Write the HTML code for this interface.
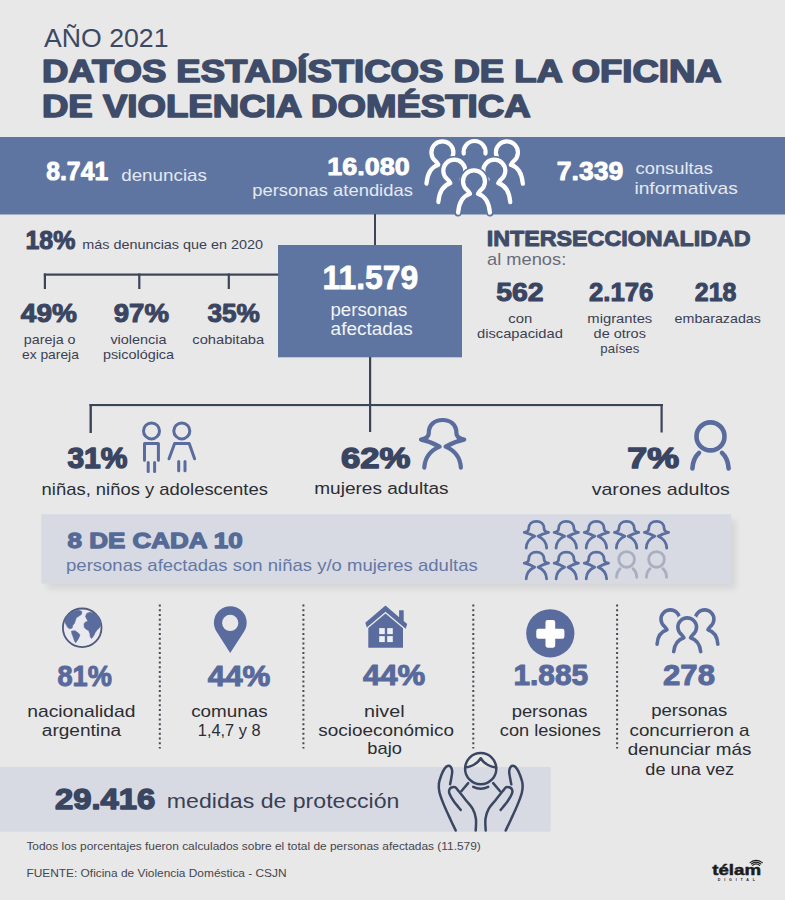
<!DOCTYPE html>
<html><head><meta charset="utf-8"><style>
html,body{margin:0;padding:0;background:#e8e8e8;}
body{width:785px;height:900px;overflow:hidden;position:relative;font-family:"Liberation Sans",sans-serif;}
svg{position:absolute;left:0;top:0;}
svg text{font-family:"Liberation Sans",sans-serif;}
</style></head><body>
<svg width="785" height="900" viewBox="0 0 785 900">
<defs><filter id="sh" filterUnits="userSpaceOnUse" x="20" y="495" width="750" height="120"><feGaussianBlur stdDeviation="3"/></filter></defs>
<rect x="0" y="0" width="785" height="900" fill="#e8e8e8"/>
<rect x="0" y="137" width="785" height="77.5" fill="#5f75a1"/>
<rect x="278" y="245" width="184" height="112.3" fill="#5f75a1"/>
<rect x="47" y="520" width="689" height="69" fill="#000" opacity="0.075" filter="url(#sh)"/>
<rect x="41.3" y="514.2" width="690" height="69.5" fill="#d7dae3"/>
<rect x="0" y="767" width="550.6" height="64.7" fill="#d7dae3"/>
<g fill="#3a4558">
<rect x="374" y="214" width="2" height="31"/>
<rect x="43.8" y="273.5" width="234.5" height="2.2"/>
<rect x="43.8" y="273.5" width="2.2" height="15.5"/>
<rect x="138.2" y="273.5" width="2.2" height="15.5"/>
<rect x="227.7" y="273.5" width="2.2" height="15.5"/>
<rect x="369" y="357" width="2.2" height="48"/>
<rect x="89.5" y="404" width="573.5" height="2.1"/>
<rect x="89.5" y="404" width="2.4" height="29"/>
<rect x="369" y="404" width="2.2" height="28"/>
<rect x="660.5" y="404" width="2.2" height="28.5"/>
</g>
<line x1="159.8" y1="604.4" x2="159.8" y2="748.5" stroke="#474a56" stroke-width="2" stroke-dasharray="2.1 2.65"/>
<line x1="303.4" y1="604.4" x2="303.4" y2="748.5" stroke="#474a56" stroke-width="2" stroke-dasharray="2.1 2.65"/>
<line x1="473.3" y1="604.4" x2="473.3" y2="748.5" stroke="#474a56" stroke-width="2" stroke-dasharray="2.1 2.65"/>
<line x1="617.1" y1="604.4" x2="617.1" y2="748.5" stroke="#474a56" stroke-width="2" stroke-dasharray="2.1 2.65"/>
<text transform="translate(44.00 46.80) scale(1.0253 1)" font-size="26" font-weight="400" fill="#3d4863">AÑO 2021</text>
<text transform="translate(41.91 81.80) scale(1.1549 1)" font-size="31.6" font-weight="700" fill="#3f4c69" stroke="#3f4c69" stroke-width="1.6" stroke-linejoin="round">DATOS ESTADÍSTICOS DE LA OFICINA</text>
<text transform="translate(41.91 116.80) scale(1.1586 1)" font-size="31.6" font-weight="700" fill="#3f4c69" stroke="#3f4c69" stroke-width="1.6" stroke-linejoin="round">DE VIOLENCIA DOMÉSTICA</text>
<text transform="translate(46.24 180.35) scale(0.9758 1)" font-size="25.37" font-weight="700" fill="#ffffff" stroke="#ffffff" stroke-width="0.9" stroke-linejoin="round">8.741</text>
<text transform="translate(121.20 180.80) scale(1.1762 1)" font-size="16.0" font-weight="400" fill="#e4e9f3">denuncias</text>
<text transform="translate(327.30 175.45) scale(1.0872 1)" font-size="24.77" font-weight="700" fill="#ffffff" stroke="#ffffff" stroke-width="0.9" stroke-linejoin="round">16.080</text>
<text transform="translate(252.28 195.60) scale(1.1158 1)" font-size="16.5" font-weight="400" fill="#e4e9f3">personas atendidas</text>
<text transform="translate(556.83 180.15) scale(1.0449 1)" font-size="25.37" font-weight="700" fill="#ffffff" stroke="#ffffff" stroke-width="0.9" stroke-linejoin="round">7.339</text>
<text transform="translate(635.60 174.30) scale(1.1304 1)" font-size="16.2" font-weight="400" fill="#e4e9f3">consultas</text>
<text transform="translate(634.42 194.00) scale(1.1849 1)" font-size="16.2" font-weight="400" fill="#e4e9f3">informativas</text>
<text transform="translate(25.50 249.30) scale(0.9955 1)" font-size="25.02" font-weight="700" fill="#3a4561" stroke="#3a4561" stroke-width="1.0" stroke-linejoin="round">18%</text>
<text transform="translate(82.30 249.10) scale(1.0915 1)" font-size="13.2" font-weight="400" fill="#3c4052">más denuncias que en 2020</text>
<text transform="translate(20.86 322.20) scale(1.1107 1)" font-size="25.22" font-weight="700" fill="#3a4561" stroke="#3a4561" stroke-width="1.0" stroke-linejoin="round">49%</text>
<text transform="translate(113.75 322.20) scale(1.0930 1)" font-size="25.22" font-weight="700" fill="#3a4561" stroke="#3a4561" stroke-width="1.0" stroke-linejoin="round">97%</text>
<text transform="translate(207.52 322.20) scale(1.0382 1)" font-size="25.22" font-weight="700" fill="#3a4561" stroke="#3a4561" stroke-width="1.0" stroke-linejoin="round">35%</text>
<text transform="translate(23.80 344.40) scale(1.1186 1)" font-size="12.8" font-weight="400" fill="#3c4052">pareja o</text>
<text transform="translate(22.00 358.80) scale(1.0798 1)" font-size="12.8" font-weight="400" fill="#3c4052">ex pareja</text>
<text transform="translate(110.40 344.40) scale(1.1267 1)" font-size="12.8" font-weight="400" fill="#3c4052">violencia</text>
<text transform="translate(102.90 358.80) scale(1.1247 1)" font-size="12.8" font-weight="400" fill="#3c4052">psicológica</text>
<text transform="translate(192.30 344.40) scale(1.1480 1)" font-size="12.8" font-weight="400" fill="#3c4052">cohabitaba</text>
<text transform="translate(322.48 289.30) scale(0.9516 1)" font-size="33.5" font-weight="700" fill="#ffffff" stroke="#ffffff" stroke-width="0.8" stroke-linejoin="round">11.579</text>
<text transform="translate(330.48 315.60) scale(1.0207 1)" font-size="18.3" font-weight="400" fill="#f2f4f8">personas</text>
<text transform="translate(330.60 335.00) scale(1.0375 1)" font-size="18.3" font-weight="400" fill="#f2f4f8">afectadas</text>
<text transform="translate(486.68 245.50) scale(1.0311 1)" font-size="22.6" font-weight="700" fill="#3f4c69" stroke="#3f4c69" stroke-width="1.0" stroke-linejoin="round">INTERSECCIONALIDAD</text>
<text transform="translate(487.00 264.50) scale(1.1294 1)" font-size="16.2" font-weight="400" fill="#686c7a">al menos:</text>
<text transform="translate(496.25 301.10) scale(1.1084 1)" font-size="25.62" font-weight="700" fill="#3a4561" stroke="#3a4561" stroke-width="1.0" stroke-linejoin="round">562</text>
<text transform="translate(589.00 301.10) scale(1.0040 1)" font-size="25.62" font-weight="700" fill="#3a4561" stroke="#3a4561" stroke-width="1.0" stroke-linejoin="round">2.176</text>
<text transform="translate(694.79 301.10) scale(0.9727 1)" font-size="25.62" font-weight="700" fill="#3a4561" stroke="#3a4561" stroke-width="1.0" stroke-linejoin="round">218</text>
<text transform="translate(508.30 323.30) scale(1.1433 1)" font-size="13.0" font-weight="400" fill="#3c4052">con</text>
<text transform="translate(477.00 338.00) scale(1.1341 1)" font-size="13.0" font-weight="400" fill="#3c4052">discapacidad</text>
<text transform="translate(587.30 323.30) scale(1.1393 1)" font-size="13.0" font-weight="400" fill="#3c4052">migrantes</text>
<text transform="translate(593.60 338.00) scale(1.1143 1)" font-size="13.0" font-weight="400" fill="#3c4052">de otros</text>
<text transform="translate(600.30 353.00) scale(1.0180 1)" font-size="13.0" font-weight="400" fill="#3c4052">países</text>
<text transform="translate(674.60 323.30) scale(1.0963 1)" font-size="13.0" font-weight="400" fill="#3c4052">embarazadas</text>
<text transform="translate(67.41 468.00) scale(1.0146 1)" font-size="29.6" font-weight="700" fill="#3a4561" stroke="#3a4561" stroke-width="1.4" stroke-linejoin="round">31%</text>
<text transform="translate(41.60 495.00) scale(1.0968 1)" font-size="16.8" font-weight="400" fill="#2c2d33">niñas, niños y adolescentes</text>
<text transform="translate(340.95 467.70) scale(1.1717 1)" font-size="29.6" font-weight="700" fill="#3a4561" stroke="#3a4561" stroke-width="1.4" stroke-linejoin="round">62%</text>
<text transform="translate(314.27 493.80) scale(1.1327 1)" font-size="16.8" font-weight="400" fill="#2c2d33">mujeres adultas</text>
<text transform="translate(627.34 467.70) scale(1.2133 1)" font-size="29.6" font-weight="700" fill="#3a4561" stroke="#3a4561" stroke-width="1.4" stroke-linejoin="round">7%</text>
<text transform="translate(591.70 494.60) scale(1.1653 1)" font-size="16.8" font-weight="400" fill="#2c2d33">varones adultos</text>
<text transform="translate(67.55 548.35) scale(1.1608 1)" font-size="22.4" font-weight="700" fill="#566a98" stroke="#566a98" stroke-width="1.3" stroke-linejoin="round">8 DE CADA 10</text>
<text transform="translate(66.04 570.50) scale(1.1579 1)" font-size="16.0" font-weight="400" fill="#6478a5">personas afectadas son niñas y/o mujeres adultas</text>
<text transform="translate(57.47 685.50) scale(0.9432 1)" font-size="28.77" font-weight="700" fill="#58699c" stroke="#58699c" stroke-width="1.0" stroke-linejoin="round">81%</text>
<text transform="translate(27.19 716.50) scale(1.2075 1)" font-size="16.0" font-weight="400" fill="#2c2d33">nacionalidad</text>
<text transform="translate(41.80 735.60) scale(1.1898 1)" font-size="16.0" font-weight="400" fill="#2c2d33">argentina</text>
<text transform="translate(207.74 685.50) scale(1.0880 1)" font-size="28.77" font-weight="700" fill="#58699c" stroke="#58699c" stroke-width="1.0" stroke-linejoin="round">44%</text>
<text transform="translate(191.20 716.50) scale(1.1768 1)" font-size="16.0" font-weight="400" fill="#2c2d33">comunas</text>
<text transform="translate(197.78 735.60) scale(1.0235 1)" font-size="16.0" font-weight="400" fill="#2c2d33">1,4,7 y 8</text>
<text transform="translate(362.94 685.00) scale(1.0828 1)" font-size="28.77" font-weight="700" fill="#58699c" stroke="#58699c" stroke-width="1.0" stroke-linejoin="round">44%</text>
<text transform="translate(363.96 716.50) scale(1.2376 1)" font-size="16.0" font-weight="400" fill="#2c2d33">nivel</text>
<text transform="translate(318.30 735.60) scale(1.1826 1)" font-size="16.0" font-weight="400" fill="#2c2d33">socioeconómico</text>
<text transform="translate(367.36 754.00) scale(1.1413 1)" font-size="16.0" font-weight="400" fill="#2c2d33">bajo</text>
<text transform="translate(513.48 685.00) scale(1.0363 1)" font-size="28.77" font-weight="700" fill="#58699c" stroke="#58699c" stroke-width="1.0" stroke-linejoin="round">1.885</text>
<text transform="translate(511.65 716.50) scale(1.1509 1)" font-size="16.0" font-weight="400" fill="#2c2d33">personas</text>
<text transform="translate(499.80 735.60) scale(1.1367 1)" font-size="16.0" font-weight="400" fill="#2c2d33">con lesiones</text>
<text transform="translate(663.06 684.80) scale(1.0813 1)" font-size="28.77" font-weight="700" fill="#58699c" stroke="#58699c" stroke-width="1.0" stroke-linejoin="round">278</text>
<text transform="translate(651.14 716.40) scale(1.1570 1)" font-size="16.0" font-weight="400" fill="#2c2d33">personas</text>
<text transform="translate(629.50 735.70) scale(1.1741 1)" font-size="16.0" font-weight="400" fill="#2c2d33">concurrieron a</text>
<text transform="translate(627.80 755.30) scale(1.1787 1)" font-size="16.0" font-weight="400" fill="#2c2d33">denunciar más</text>
<text transform="translate(645.30 774.60) scale(1.1369 1)" font-size="16.0" font-weight="400" fill="#2c2d33">de una vez</text>
<text transform="translate(55.03 809.45) scale(1.0783 1)" font-size="30.4" font-weight="700" fill="#3a4561" stroke="#3a4561" stroke-width="1.5" stroke-linejoin="round">29.416</text>
<text transform="translate(166.83 807.80) scale(1.1684 1)" font-size="19.8" font-weight="400" fill="#3b3f52">medidas de protección</text>
<text transform="translate(26.40 850.00) scale(1.0654 1)" font-size="11.2" font-weight="400" fill="#45464e">Todos los porcentajes fueron calculados sobre el total de personas afectadas (11.579)</text>
<text transform="translate(26.40 876.50) scale(1.0626 1)" font-size="11.2" font-weight="400" fill="#45464e">FUENTE: Oficina de Violencia Doméstica - CSJN</text>
<text transform="translate(712.20 875.35) scale(1.2062 1)" font-size="15.5" font-weight="700" fill="#1b1b1b" stroke="#1b1b1b" stroke-width="0.5" stroke-linejoin="round">télam</text>
<g fill="none" stroke="#ffffff" stroke-width="4.2" stroke-linecap="round" stroke-linejoin="round">
<path d="M426.45 183.75 C427.44 171.98 432.28 166.70 438.44 164.83 C437.78 163.73 436.90 162.30 435.58 161.03 A11.00 11.00 0 1 1 449.22 161.03 "/>
<path d="M463.71 153.53 A11.0 11.0 0 1 1 485.49 153.53"/>
<path d="M500.08 161.03 A11.00 11.00 0 1 1 513.72 161.03 C512.40 162.30 511.52 163.73 510.86 164.83 C517.02 166.70 521.86 171.98 522.85 183.75"/>
</g>
<circle cx="454.3" cy="170.7" r="14.7" fill="#5f75a1"/>
<path d="M438.35 202.05 C439.34 190.28 444.18 185.00 450.34 183.13 C449.68 182.03 448.80 180.60 447.48 179.33 A11.00 11.00 0 1 1 461.12 179.33 C459.80 180.60 458.92 182.03 458.26 183.13 C464.42 185.00 469.26 190.28 470.25 202.05" fill="none" stroke="#5f75a1" stroke-width="7.4" stroke-linecap="round" stroke-linejoin="round"/>
<circle cx="494.3" cy="170.7" r="14.7" fill="#5f75a1"/>
<path d="M478.35 202.05 C479.34 190.28 484.18 185.00 490.34 183.13 C489.68 182.03 488.80 180.60 487.48 179.33 A11.00 11.00 0 1 1 501.12 179.33 C499.80 180.60 498.92 182.03 498.26 183.13 C504.42 185.00 509.26 190.28 510.25 202.05" fill="none" stroke="#5f75a1" stroke-width="7.4" stroke-linecap="round" stroke-linejoin="round"/>
<g fill="none" stroke="#ffffff" stroke-width="4.2" stroke-linecap="round" stroke-linejoin="round">
<path d="M438.35 202.05 C439.34 190.28 444.18 185.00 450.34 183.13 C449.68 182.03 448.80 180.60 447.48 179.33 A11.00 11.00 0 1 1 461.12 179.33 "/>
<path d="M487.48 179.33 A11.00 11.00 0 1 1 501.12 179.33 C499.80 180.60 498.92 182.03 498.26 183.13 C504.42 185.00 509.26 190.28 510.25 202.05"/>
</g>
<circle cx="474" cy="181.4" r="14.7" fill="#5f75a1"/>
<path d="M458.05 212.75 C459.04 200.98 463.88 195.70 470.04 193.83 C469.38 192.73 468.50 191.30 467.18 190.03 A11.00 11.00 0 1 1 480.82 190.03 C479.50 191.30 478.62 192.73 477.96 193.83 C484.12 195.70 488.96 200.98 489.95 212.75" fill="none" stroke="#5f75a1" stroke-width="7.4" stroke-linecap="round" stroke-linejoin="round"/>
<path d="M458.05 212.75 C459.04 200.98 463.88 195.70 470.04 193.83 C469.38 192.73 468.50 191.30 467.18 190.03 A11.00 11.00 0 1 1 480.82 190.03 C479.50 191.30 478.62 192.73 477.96 193.83 C484.12 195.70 488.96 200.98 489.95 212.75" fill="none" stroke="#ffffff" stroke-width="4.2" stroke-linecap="round" stroke-linejoin="round"/>
<g fill="none" stroke="#5a6c9e" stroke-width="3.0" stroke-linecap="round" stroke-linejoin="round">
<circle cx="151.5" cy="430.9" r="8"/><circle cx="181.8" cy="430.9" r="8"/>
<path d="M144.5 460.3 V443.6 H158.4 V460.3"/>
<path d="M148.2 462.5 V471.6 M154.6 462.5 V471.6"/>
<path d="M169 458.8 L174.6 443.6 H189.2 L194.6 458.8"/>
<path d="M178.7 461.5 V470.8 M185 461.5 V470.8"/>
</g>
<path d="M442.60 420.00 C434.60 420.00 428.80 424.80 428.80 433.00 C428.80 436.80 425.10 438.80 421.00 439.60 C427.60 440.80 433.60 443.20 439.60 446.60 C431.60 450.00 425.00 456.00 424.30 467.60 M442.60 420.00 C450.60 420.00 456.40 424.80 456.40 433.00 C456.40 436.80 460.10 438.80 464.20 439.60 C457.60 440.80 451.60 443.20 445.60 446.60 C453.60 450.00 460.20 456.00 460.90 467.60 " fill="none" stroke="#5a6c9e" stroke-width="4.2" stroke-linecap="round" stroke-linejoin="round"/>
<circle cx="710.5" cy="436.4" r="14.00" fill="none" stroke="#5a6c9e" stroke-width="4.6"/><path d="M699.00 452.90 Q693.00 458.40 692.40 468.40 M722.00 452.90 Q728.00 458.40 728.60 468.40" fill="none" stroke="#5a6c9e" stroke-width="4.6" stroke-linecap="round"/>
<path d="M536.40 521.40 C531.92 521.40 528.67 524.09 528.67 528.68 C528.67 530.81 526.60 531.93 524.30 532.38 C528.00 533.05 531.36 534.39 534.72 536.30 C530.24 538.20 526.54 541.56 526.15 548.06 M536.40 521.40 C540.88 521.40 544.13 524.09 544.13 528.68 C544.13 530.81 546.20 531.93 548.50 532.38 C544.80 533.05 541.44 534.39 538.08 536.30 C542.56 538.20 546.26 541.56 546.65 548.06 " fill="none" stroke="#5a6fa0" stroke-width="2.8" stroke-linecap="round" stroke-linejoin="round"/>
<path d="M566.30 521.40 C561.82 521.40 558.57 524.09 558.57 528.68 C558.57 530.81 556.50 531.93 554.20 532.38 C557.90 533.05 561.26 534.39 564.62 536.30 C560.14 538.20 556.44 541.56 556.05 548.06 M566.30 521.40 C570.78 521.40 574.03 524.09 574.03 528.68 C574.03 530.81 576.10 531.93 578.40 532.38 C574.70 533.05 571.34 534.39 567.98 536.30 C572.46 538.20 576.16 541.56 576.55 548.06 " fill="none" stroke="#5a6fa0" stroke-width="2.8" stroke-linecap="round" stroke-linejoin="round"/>
<path d="M596.40 521.40 C591.92 521.40 588.67 524.09 588.67 528.68 C588.67 530.81 586.60 531.93 584.30 532.38 C588.00 533.05 591.36 534.39 594.72 536.30 C590.24 538.20 586.54 541.56 586.15 548.06 M596.40 521.40 C600.88 521.40 604.13 524.09 604.13 528.68 C604.13 530.81 606.20 531.93 608.50 532.38 C604.80 533.05 601.44 534.39 598.08 536.30 C602.56 538.20 606.26 541.56 606.65 548.06 " fill="none" stroke="#5a6fa0" stroke-width="2.8" stroke-linecap="round" stroke-linejoin="round"/>
<path d="M626.60 521.40 C622.12 521.40 618.87 524.09 618.87 528.68 C618.87 530.81 616.80 531.93 614.50 532.38 C618.20 533.05 621.56 534.39 624.92 536.30 C620.44 538.20 616.74 541.56 616.35 548.06 M626.60 521.40 C631.08 521.40 634.33 524.09 634.33 528.68 C634.33 530.81 636.40 531.93 638.70 532.38 C635.00 533.05 631.64 534.39 628.28 536.30 C632.76 538.20 636.46 541.56 636.85 548.06 " fill="none" stroke="#5a6fa0" stroke-width="2.8" stroke-linecap="round" stroke-linejoin="round"/>
<path d="M656.50 521.40 C652.02 521.40 648.77 524.09 648.77 528.68 C648.77 530.81 646.70 531.93 644.40 532.38 C648.10 533.05 651.46 534.39 654.82 536.30 C650.34 538.20 646.64 541.56 646.25 548.06 M656.50 521.40 C660.98 521.40 664.23 524.09 664.23 528.68 C664.23 530.81 666.30 531.93 668.60 532.38 C664.90 533.05 661.54 534.39 658.18 536.30 C662.66 538.20 666.36 541.56 666.75 548.06 " fill="none" stroke="#5a6fa0" stroke-width="2.8" stroke-linecap="round" stroke-linejoin="round"/>
<path d="M536.40 552.20 C531.92 552.20 528.67 554.89 528.67 559.48 C528.67 561.61 526.60 562.73 524.30 563.18 C528.00 563.85 531.36 565.19 534.72 567.10 C530.24 569.00 526.54 572.36 526.15 578.86 M536.40 552.20 C540.88 552.20 544.13 554.89 544.13 559.48 C544.13 561.61 546.20 562.73 548.50 563.18 C544.80 563.85 541.44 565.19 538.08 567.10 C542.56 569.00 546.26 572.36 546.65 578.86 " fill="none" stroke="#5a6fa0" stroke-width="2.8" stroke-linecap="round" stroke-linejoin="round"/>
<path d="M566.30 552.20 C561.82 552.20 558.57 554.89 558.57 559.48 C558.57 561.61 556.50 562.73 554.20 563.18 C557.90 563.85 561.26 565.19 564.62 567.10 C560.14 569.00 556.44 572.36 556.05 578.86 M566.30 552.20 C570.78 552.20 574.03 554.89 574.03 559.48 C574.03 561.61 576.10 562.73 578.40 563.18 C574.70 563.85 571.34 565.19 567.98 567.10 C572.46 569.00 576.16 572.36 576.55 578.86 " fill="none" stroke="#5a6fa0" stroke-width="2.8" stroke-linecap="round" stroke-linejoin="round"/>
<path d="M596.40 552.20 C591.92 552.20 588.67 554.89 588.67 559.48 C588.67 561.61 586.60 562.73 584.30 563.18 C588.00 563.85 591.36 565.19 594.72 567.10 C590.24 569.00 586.54 572.36 586.15 578.86 M596.40 552.20 C600.88 552.20 604.13 554.89 604.13 559.48 C604.13 561.61 606.20 562.73 608.50 563.18 C604.80 563.85 601.44 565.19 598.08 567.10 C602.56 569.00 606.26 572.36 606.65 578.86 " fill="none" stroke="#5a6fa0" stroke-width="2.8" stroke-linecap="round" stroke-linejoin="round"/>
<circle cx="626.6" cy="559.4000000000001" r="7.84" fill="none" stroke="#a9afbf" stroke-width="2.8"/><path d="M620.16 568.64 Q616.80 571.72 616.46 577.32 M633.04 568.64 Q636.40 571.72 636.74 577.32" fill="none" stroke="#a9afbf" stroke-width="2.8" stroke-linecap="round"/>
<circle cx="656.5" cy="559.4000000000001" r="7.84" fill="none" stroke="#a9afbf" stroke-width="2.8"/><path d="M650.06 568.64 Q646.70 571.72 646.36 577.32 M662.94 568.64 Q666.30 571.72 666.64 577.32" fill="none" stroke="#a9afbf" stroke-width="2.8" stroke-linecap="round"/>
<circle cx="82.2" cy="627.8" r="19.3" fill="#e9eaf0" stroke="#4f5a7c" stroke-width="1.8"/>
<path d="M67.2 615.8 L70.8 612.8 L75.7 610.6 L79.1 610.3 L81.9 611.6 L81.5 614.3 L79.4 615.8 L76.3 617.7 L75.7 619.5 L74.5 623.2 L72.7 625.6 L72.1 628.1 L69.6 628.7 L67.8 627.5 L66 624.4 L64.7 621.3 L65.3 618.3 Z" fill="#5a6c9e" stroke="#5a6c9e" stroke-width="0.6" stroke-linejoin="round"/>
<path d="M71.5 631.1 L75.1 630.8 L78.2 633 L80 634.8 L78.8 637.9 L77 640.9 L75.7 642.8 L74.5 640.9 L73.3 637.3 L71.8 633.6 Z" fill="#5a6c9e" stroke="#5a6c9e" stroke-width="0.6" stroke-linejoin="round"/>
<path d="M86.7 613.4 L89.8 612.2 L94.7 613.4 L98.4 616.5 L100.8 620.7 L100.8 625 L99.6 627.5 L97.1 629.9 L95.3 632.4 L93.5 636 L91.6 638.5 L90.4 637.3 L89.8 633.6 L88.6 630.5 L86.1 629.3 L84.3 627.5 L84 623.8 L85.5 622 L88 621.3 L86.7 618.9 L85.5 616.5 Z" fill="#5a6c9e" stroke="#5a6c9e" stroke-width="0.6" stroke-linejoin="round"/>
<path d="M230.2 653.0 L216.49 631.45 A16.4 16.4 0 1 1 244.11 631.45 Z" fill="#5a6c9e"/>
<circle cx="230.2" cy="622.9" r="8.1" fill="#e8e8e8"/>
<path d="M365.3 622.8 L385.5 605.6 L399.1 617.2 V610.3 H403.7 V621.1 L407.2 624.1 L405.7 628.8 L385.5 611.8 L366.8 627.6 Z" fill="#5a6c9e"/>
<path d="M368.3 627.9 L385.5 613.4 L403 628.2 V647.7 H368.3 Z" fill="#5a6c9e"/>
<g fill="#eef0f5"><rect x="379.2" y="628.1" width="5.6" height="6"/><rect x="387.2" y="628.1" width="5.6" height="6"/><rect x="379.2" y="636.1" width="5.6" height="6"/><rect x="387.2" y="636.1" width="5.6" height="6"/></g>
<circle cx="550.3" cy="633.3" r="24.1" fill="#5a6c9e"/>
<path d="M545.5 622 Q545.5 619.9 547.6 619.9 H553.1 Q555.2 619.9 555.2 622 V628.8 H562.3 Q564.4 628.8 564.4 630.9 V636.7 Q564.4 638.8 562.3 638.8 H555.2 V645.6 Q555.2 647.7 553.1 647.7 H547.6 Q545.5 647.7 545.5 645.6 V638.8 H538.4 Q536.3 638.8 536.3 636.7 V630.9 Q536.3 628.8 538.4 628.8 H545.5 Z" fill="#ffffff"/>
<g fill="none" stroke="#5a6c9e" stroke-width="3.6" stroke-linecap="round" stroke-linejoin="round">
<path d="M657.09 644.12 C657.65 635.75 661.74 631.29 666.95 629.71 C666.39 628.78 665.65 627.57 664.53 626.50 A9.30 9.30 0 1 1 676.07 626.50 "/>
<path d="M698.83 626.50 A9.30 9.30 0 1 1 710.37 626.50 C709.25 627.57 708.51 628.78 707.95 629.71 C713.16 631.29 717.25 635.75 717.81 644.12"/>
</g>
<circle cx="687.2" cy="627.2" r="13.500000000000002" fill="#e8e8e8"/>
<path d="M673.72 651.57 C674.55 643.75 678.64 639.29 683.85 637.71 C683.29 636.78 682.55 635.57 681.43 634.50 A9.30 9.30 0 1 1 692.97 634.50 C691.85 635.57 691.11 636.78 690.55 637.71 C695.76 639.29 699.85 643.75 700.69 651.57" fill="none" stroke="#e8e8e8" stroke-width="8.4" stroke-linecap="round" stroke-linejoin="round"/>
<path d="M673.72 651.57 C674.55 643.75 678.64 639.29 683.85 637.71 C683.29 636.78 682.55 635.57 681.43 634.50 A9.30 9.30 0 1 1 692.97 634.50 C691.85 635.57 691.11 636.78 690.55 637.71 C695.76 639.29 699.85 643.75 700.69 651.57" fill="none" stroke="#5a6c9e" stroke-width="3.6" stroke-linecap="round" stroke-linejoin="round"/>
<g fill="none" stroke="#3b4661" stroke-width="2.5" stroke-linecap="round" stroke-linejoin="round">
<circle cx="480.7" cy="768.7" r="15.6"/>
<path d="M465.3 767.6 C472 766.5 478 763 480.7 758.2 C483.4 763 489.4 766.5 496.1 767.6"/>
<path d="M461.3 791.2 L468.2 783.1 M473.2 786.8 Q480.7 790.5 488.2 786.8 M493.2 783.1 L500.1 791.2"/>
<path d="M455.70 830.50 C454.87 828.73 452.67 824.17 450.70 819.90 C448.73 815.63 445.77 809.47 443.90 804.90 C442.03 800.33 440.33 796.03 439.50 792.50 C438.67 788.97 438.58 786.62 438.90 783.70 C439.22 780.78 440.47 777.50 441.40 775.00 C442.33 772.50 443.47 770.20 444.50 768.70 C445.53 767.20 446.57 766.30 447.60 766.00 C448.63 765.70 449.93 766.03 450.70 766.90 C451.47 767.77 452.08 769.43 452.20 771.20 C452.32 772.97 451.75 775.32 451.40 777.50 C451.05 779.68 450.32 783.17 450.10 784.30 "/>
<path d="M460.70 809.90 C459.55 808.45 455.67 803.90 453.80 801.20 C451.93 798.50 450.27 795.57 449.50 793.70 C448.73 791.83 448.88 791.03 449.20 790.00 C449.52 788.97 450.42 787.97 451.40 787.50 C452.38 787.03 453.87 786.58 455.10 787.20 C456.33 787.82 457.03 789.07 458.80 791.20 C460.57 793.33 463.40 797.08 465.70 800.00 C468.00 802.92 470.90 805.58 472.60 808.70 C474.30 811.82 475.38 815.07 475.90 818.70 C476.42 822.33 475.73 828.53 475.70 830.50 "/>
<path d="M505.70 830.50 C506.53 828.73 508.73 824.17 510.70 819.90 C512.67 815.63 515.63 809.47 517.50 804.90 C519.37 800.33 521.07 796.03 521.90 792.50 C522.73 788.97 522.82 786.62 522.50 783.70 C522.18 780.78 520.93 777.50 520.00 775.00 C519.07 772.50 517.93 770.20 516.90 768.70 C515.87 767.20 514.83 766.30 513.80 766.00 C512.77 765.70 511.47 766.03 510.70 766.90 C509.93 767.77 509.32 769.43 509.20 771.20 C509.08 772.97 509.65 775.32 510.00 777.50 C510.35 779.68 511.08 783.17 511.30 784.30 "/>
<path d="M500.70 809.90 C501.85 808.45 505.73 803.90 507.60 801.20 C509.47 798.50 511.13 795.57 511.90 793.70 C512.67 791.83 512.52 791.03 512.20 790.00 C511.88 788.97 510.98 787.97 510.00 787.50 C509.02 787.03 507.53 786.58 506.30 787.20 C505.07 787.82 504.37 789.07 502.60 791.20 C500.83 793.33 498.00 797.08 495.70 800.00 C493.40 802.92 490.50 805.58 488.80 808.70 C487.10 811.82 486.02 815.07 485.50 818.70 C484.98 822.33 485.67 828.53 485.70 830.50 "/>
</g>
<g fill="none" stroke="#1b1b1b" stroke-linecap="round"><path d="M750.1 862.6 Q756.1 858.2 762.3 862.6" stroke-width="1.1"/><path d="M751.4 864 Q756.1 860.3 760.8 864" stroke-width="1.1"/><path d="M752.6 865.4 Q756.1 862.4 759.6 865.4" stroke-width="1.1"/></g>
<text x="717.7" y="880.7" font-size="3.6" font-weight="700" fill="#1b1b1b" textLength="37.2" lengthAdjust="spacing">DIGITAL</text>
</svg>
</body></html>
